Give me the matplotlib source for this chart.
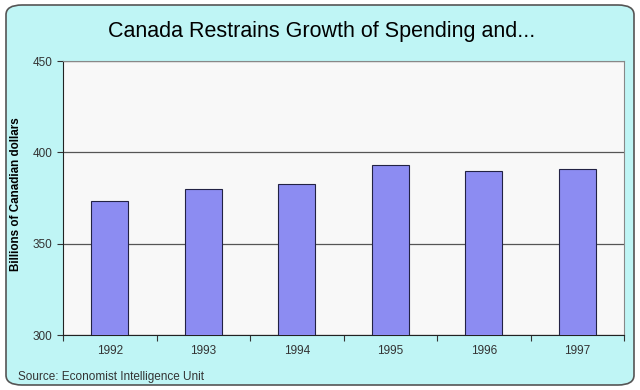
import matplotlib
matplotlib.use("Agg")
import matplotlib.pyplot as plt
from matplotlib.patches import FancyBboxPatch

years = ["1992", "1993", "1994", "1995", "1996", "1997"]
spending = [373.3, 379.8, 382.8, 392.9, 389.8, 391.1]
yticks = [300, 350, 400, 450]

plt.rcParams['font.family'] = ['Liberation Sans', 'DejaVu Sans']

fig = plt.figure(figsize=(6.4, 3.9), dpi=100)
fig.patch.set_facecolor("white")

# rounded cyan panel behind everything
panel = FancyBboxPatch((6 / 640, 5 / 390), 628 / 640, 380 / 390,
                       boxstyle="round,pad=0,rounding_size=0.025",
                       transform=fig.transFigure, facecolor="#bff5f5",
                       edgecolor="#555555", linewidth=1.2, zorder=-10)
fig.patches.append(panel)

ax = fig.add_axes([63 / 640, 55 / 390, 561 / 640, 274 / 390])
ax.set_zorder(5)
ax.set_facecolor("#f8f8f8")

x = range(len(years))
ax.bar(x, spending, width=0.4, color="#8c8cf2", edgecolor="#222244",
       linewidth=0.8, zorder=3)

ax.set_xlim(-0.5, len(years) - 0.5)
ax.set_ylim(300, 450)
ax.set_yticks(yticks)
ax.yaxis.grid(True, color="#555555", linewidth=0.9, zorder=1)
ax.set_axisbelow(True)

ax.set_xticks([i - 0.5 for i in range(len(years) + 1)])
ax.set_xticklabels([])
ax.set_xticks(list(x), minor=True)
ax.set_xticklabels(years, minor=True)
ax.tick_params(axis="x", which="major", direction="out", length=4, color="#333333")
ax.tick_params(axis="x", which="minor", length=0, pad=7, labelsize=8.5, labelcolor="#333333")
ax.tick_params(axis="y", direction="out", length=4, color="#333333", labelsize=8.5,
               labelcolor="#333333")

for side in ["left", "bottom"]:
    ax.spines[side].set_color("#222222")
for side in ["top", "right"]:
    ax.spines[side].set_color("#888888")

ax.set_ylabel("Billions of Canadian dollars", fontsize=8.4, fontweight="bold")
ax.yaxis.set_label_coords((22 - 63) / 561, 0.515)

fig.text(0.502, 0.92, "Canada Restrains Growth of Spending and...", ha="center",
         va="center", fontsize=15.5)
fig.text(18 / 640, 1 - 377 / 390, "Source: Economist Intelligence Unit", ha="left",
         va="center", fontsize=8.5, color="#333333")

fig.savefig("out.png", dpi=100)
